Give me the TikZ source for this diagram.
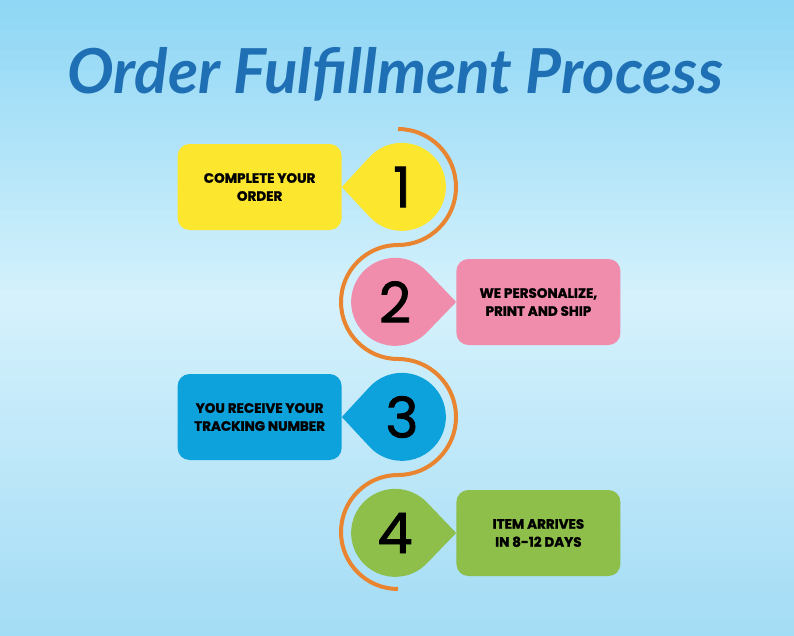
\documentclass[tikz,border=0pt]{standalone}
\usepackage{fontspec}
\usepackage{tikz}
\usetikzlibrary{positioning, backgrounds}
\newfontfamily\titlefont{Lato}
\newfontfamily\stepfont{Poppins}[BoldFeatures={FakeBold=1.5}]
\newfontfamily\numfont{Poppins}[FakeBold=1.5]
\definecolor{skytop}{HTML}{8FD7F5}
\definecolor{skymid}{HTML}{D4F1FC}
\definecolor{skybot}{HTML}{A3DCF5}
\definecolor{titleblue}{HTML}{1E6FB3}
\definecolor{waveorange}{HTML}{E98530}
\definecolor{stepyellow}{HTML}{FCE62E}
\definecolor{steppink}{HTML}{F08DAD}
\definecolor{stepblue}{HTML}{0EA2DC}
\definecolor{stepgreen}{HTML}{8DBF4A}

\begin{document}
\begin{tikzpicture}[x=1pt, y=-1pt,
    stepbox/.style={rectangle, rounded corners=12pt, fill=#1, minimum width=164pt, minimum height=86pt,
        align=center, font=\stepfont\bfseries\fontsize{13.5}{18}\selectfont},
    numdot/.style={circle, minimum size=88pt, inner sep=0pt, font=\numfont\fontsize{56}{56}\selectfont},
]
    \useasboundingbox (0,0) rectangle (794,635);

    % Title
    \node[font=\titlefont\bfseries\itshape\fontsize{62}{62}\selectfont, text=titleblue] (title) at (395,74) {Order Fulfillment Process};

    % Step numbers
    \node[numdot] (n1) at (402,187) {1};
    \node[numdot] (n2) at (395,302) {2};
    \node[numdot] (n3) at (402,417) {3};
    \node[numdot] (n4) at (395,533) {4};

    % Step boxes
    \node[stepbox=stepyellow, left=16pt of n1] (b1) {COMPLETE YOUR\\ORDER};
    \node[stepbox=steppink, right=17pt of n2] (b2) {WE PERSONALIZE,\\PRINT AND SHIP};
    \node[stepbox=stepblue, left=16pt of n3] (b3) {YOU RECEIVE YOUR\\TRACKING NUMBER};
    \node[stepbox=stepgreen, right=17pt of n4] (b4) {ITEM ARRIVES\\IN 8-12 DAYS};

    \coordinate (wavetop) at (398,129);

    \begin{scope}[on background layer]
        % Sky, in bands
        \foreach \i in {0,...,29} {
            \pgfmathtruncatemacro\p{\i*100/29}
            \fill[skymid!\p!skytop] (0,\i*10) rectangle (794,\i*10+10.5);
        }
        \foreach \i in {30,...,63} {
            \pgfmathtruncatemacro\p{(\i-30)*100/33}
            \fill[skybot!\p!skymid] (0,\i*10) rectangle (794,\i*10+10.5);
        }

        % Wave
        \draw[waveorange, line width=4pt] (wavetop)
            arc[start angle=90, end angle=-90, radius=58pt]
            arc[start angle=90, end angle=270, radius=57pt]
            arc[start angle=90, end angle=-90, radius=58pt]
            arc[start angle=90, end angle=270, radius=57pt];

        % Drops
        \fill[stepyellow] (b1.east) -- (n1.137) arc[start angle=137, end angle=-137, radius=44pt] -- cycle;
        \fill[steppink] (b2.west) -- (n2.43) arc[start angle=43, end angle=317, radius=44pt] -- cycle;
        \fill[stepblue] (b3.east) -- (n3.137) arc[start angle=137, end angle=-137, radius=44pt] -- cycle;
        \fill[stepgreen] (b4.west) -- (n4.43) arc[start angle=43, end angle=317, radius=44pt] -- cycle;
    \end{scope}
\end{tikzpicture}
\end{document}
